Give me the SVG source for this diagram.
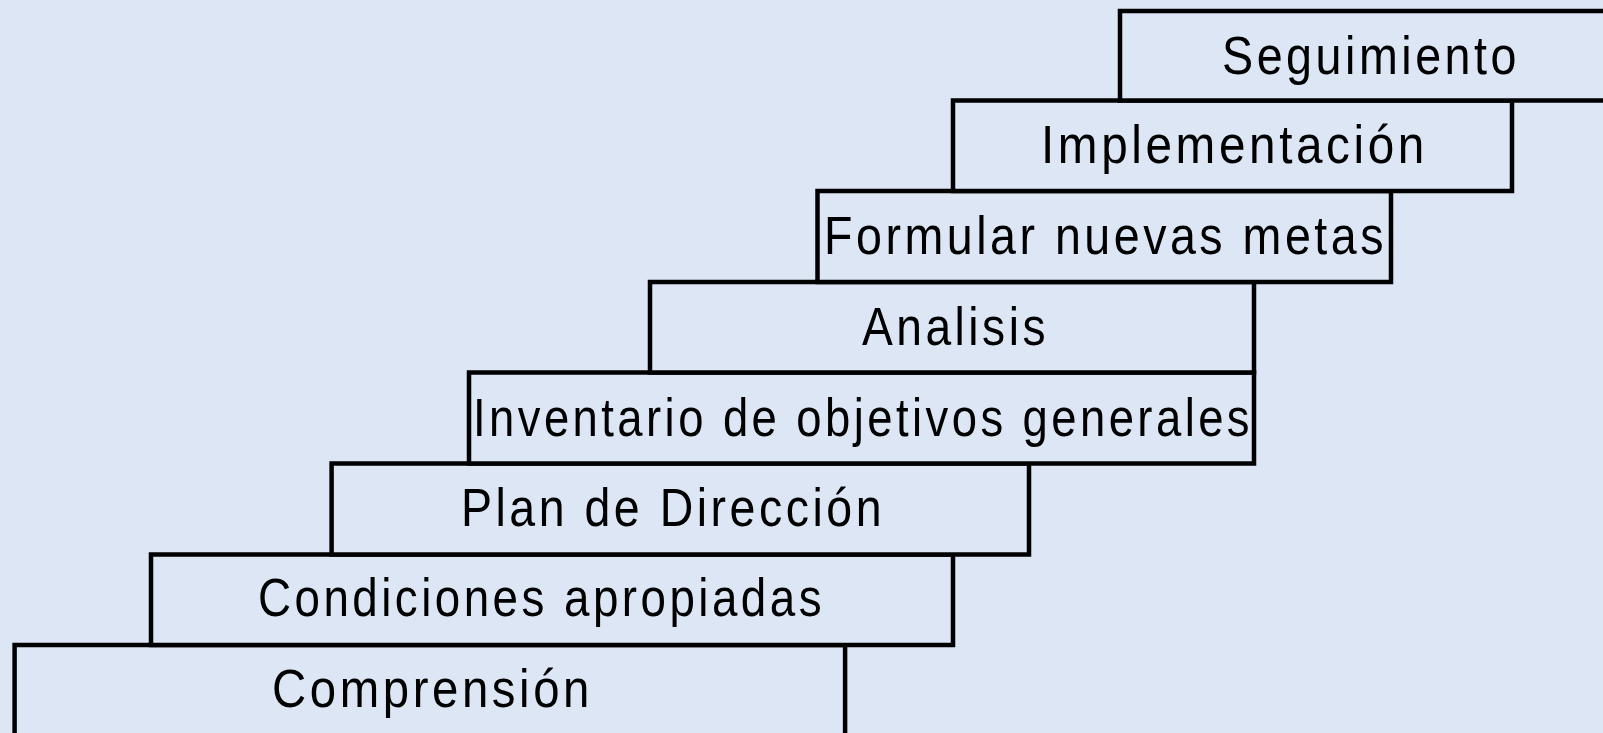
<svg xmlns="http://www.w3.org/2000/svg" width="1603" height="733" viewBox="0 0 1603 733">
<style>
.bg{fill:#dce6f5}
.box{fill:#dce6f5;stroke:#000;stroke-width:4.5}
.lbl{font-family:"Liberation Sans",Arial,sans-serif;font-size:53px;fill:#000;letter-spacing:4px}
</style>
<rect class="bg" x="0" y="0" width="1603" height="733"/>
<g id="n8"><rect class="box" x="14.6" y="645" width="830.5" height="120"/><text class="lbl" x="272" y="707" textLength="321" lengthAdjust="spacingAndGlyphs">Comprensión</text></g>
<g id="n7"><rect class="box" x="151" y="554.5" width="802" height="90.5"/><text class="lbl" x="258" y="616" textLength="567" lengthAdjust="spacingAndGlyphs">Condiciones apropiadas</text></g>
<g id="n6"><rect class="box" x="331.6" y="463.5" width="697.4" height="91"/><text class="lbl" x="461" y="526" textLength="424" lengthAdjust="spacingAndGlyphs">Plan de Dirección</text></g>
<g id="n5"><rect class="box" x="469" y="372.5" width="785" height="91"/><text class="lbl" x="473" y="436" textLength="780" lengthAdjust="spacingAndGlyphs">Inventario de objetivos generales</text></g>
<g id="n4"><rect class="box" x="650" y="282" width="604" height="90.5"/><text class="lbl" x="862" y="345" textLength="187" lengthAdjust="spacingAndGlyphs">Analisis</text></g>
<g id="n3"><rect class="box" x="817.5" y="191" width="573.5" height="91"/><text class="lbl" x="824" y="254" textLength="563" lengthAdjust="spacingAndGlyphs">Formular nuevas metas</text></g>
<g id="n2"><rect class="box" x="953" y="100.5" width="559" height="90.5"/><text class="lbl" x="1041" y="163" textLength="387" lengthAdjust="spacingAndGlyphs">Implementación</text></g>
<g id="n1"><rect class="box" x="1120" y="11" width="520" height="89.5"/><text class="lbl" x="1222" y="74" textLength="298" lengthAdjust="spacingAndGlyphs">Seguimiento</text></g>
<g id="connectors"></g>
</svg>
